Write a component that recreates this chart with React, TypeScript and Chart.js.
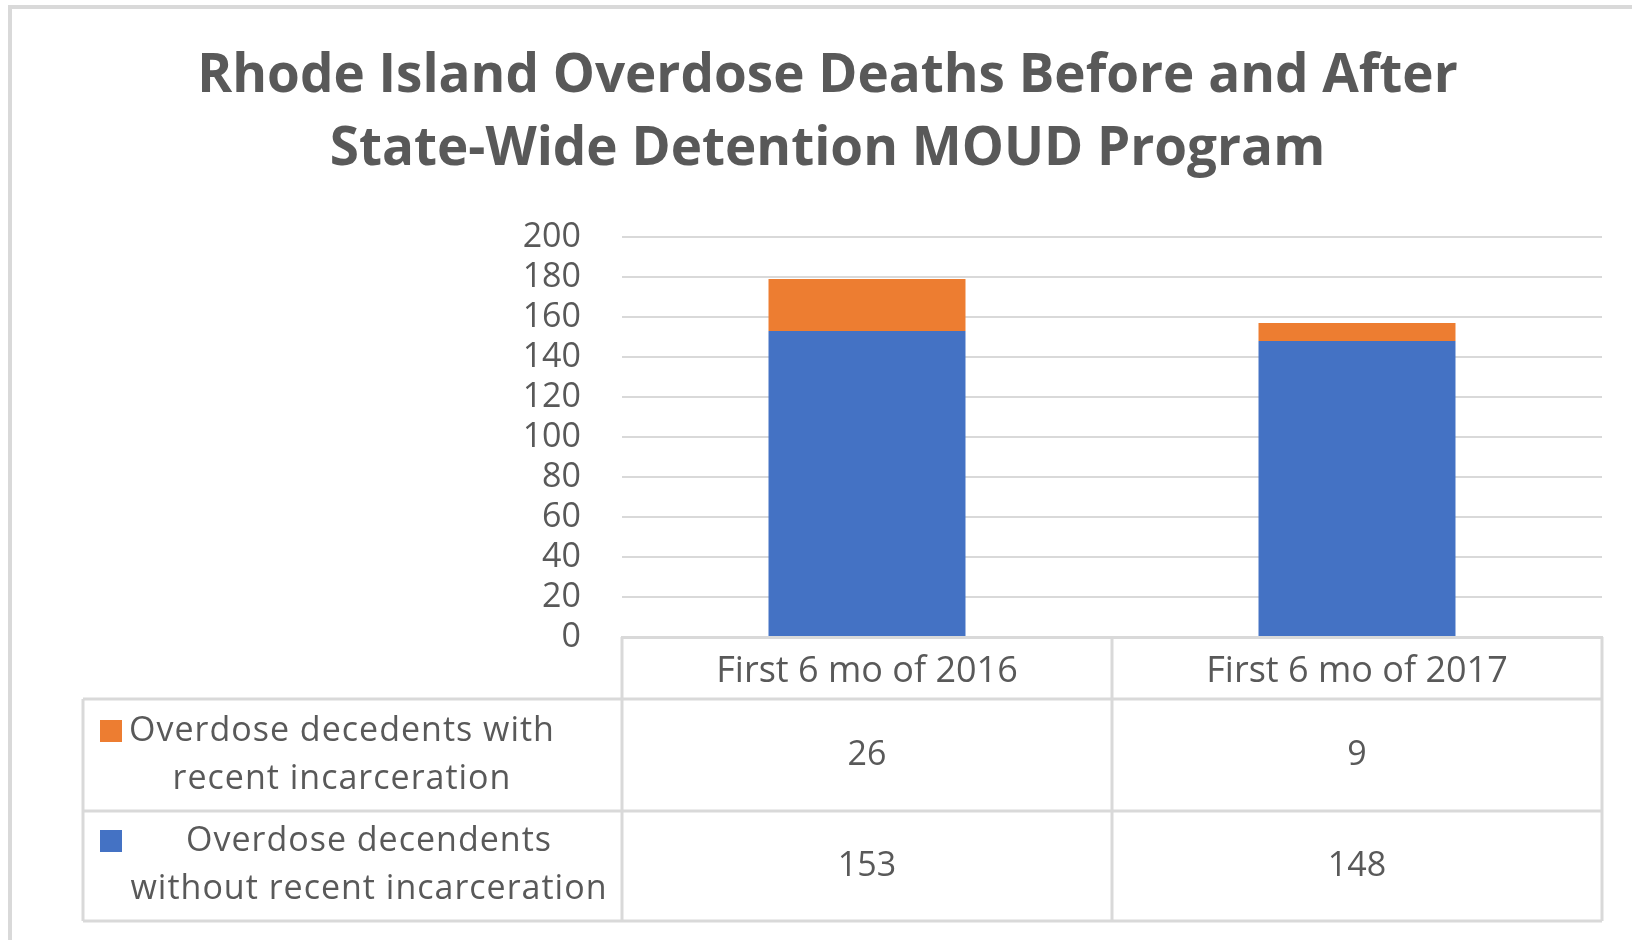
import React, { useEffect, useRef } from 'react';
import { Chart, registerables } from 'chart.js';

Chart.register(...registerables);

// ---- Data ----
const titleLines = ['Rhode Island Overdose Deaths Before and After', 'State-Wide Detention MOUD Program'];
const categories = ['First 6 mo of 2016', 'First 6 mo of 2017'];
const withRecentIncarceration = [26, 9];
const withoutRecentIncarceration = [153, 148];
const withLabelLines = ['Overdose decedents with', 'recent incarceration'];
const withoutLabelLines = ['Overdose decendents', 'without recent incarceration'];
const yMin = 0;
const yMax = 200;
const yStep = 20;

// ---- Styles ----
const BLUE = '#4472C4';
const ORANGE = '#ED7D31';
const GRID = '#D9D9D9';
const TEXT = '#595959';
const FONT = "'Open Sans', sans-serif";
const TABLE_FONT_SIZE = 34;

const dataTablePlugin = {
  id: 'dataTable',
  afterDraw(chart: any) {
    const ctx = chart.ctx as CanvasRenderingContext2D;
    const xs = chart.scales.x;
    const ys = chart.scales.y;
    const left = xs.left;
    const right = xs.right;
    const c0 = xs.getPixelForValue(0);
    const c1 = xs.getPixelForValue(1);
    const mid = (c0 + c1) / 2;
    const top = ys.bottom;
    const headerBottom = top + 62;
    const row1Bottom = headerBottom + 112;
    const row2Bottom = row1Bottom + 110;
    const tableLeft = 83;

    ctx.save();
    // outer chart frame
    ctx.strokeStyle = GRID;
    ctx.lineWidth = 4;
    ctx.beginPath();
    ctx.moveTo(10, chart.height);
    ctx.lineTo(10, 7);
    ctx.lineTo(chart.width, 7);
    ctx.stroke();

    // table grid
    ctx.lineWidth = 3;
    ctx.beginPath();
    ctx.moveTo(tableLeft, headerBottom); ctx.lineTo(right, headerBottom);
    ctx.moveTo(tableLeft, row1Bottom); ctx.lineTo(right, row1Bottom);
    ctx.moveTo(tableLeft, row2Bottom); ctx.lineTo(right, row2Bottom);
    ctx.moveTo(tableLeft, headerBottom); ctx.lineTo(tableLeft, row2Bottom);
    ctx.moveTo(left, top); ctx.lineTo(left, row2Bottom);
    ctx.moveTo(mid, top); ctx.lineTo(mid, row2Bottom);
    ctx.moveTo(right, top); ctx.lineTo(right, row2Bottom);
    ctx.stroke();

    // values
    ctx.fillStyle = TEXT;
    ctx.font = `${TABLE_FONT_SIZE}px ${FONT}`;
    ctx.textAlign = 'center';
    ctx.textBaseline = 'middle';
    const r1 = (headerBottom + row1Bottom) / 2;
    const r2 = (row1Bottom + row2Bottom) / 2;
    withRecentIncarceration.forEach((v, i) => {
      ctx.fillText(String(v), xs.getPixelForValue(i), r1);
    });
    withoutRecentIncarceration.forEach((v, i) => {
      ctx.fillText(String(v), xs.getPixelForValue(i), r2);
    });

    // row labels
    (ctx as any).letterSpacing = '1px';
    const lineGap = 48;
    withLabelLines.forEach((t, i) => {
      ctx.fillText(t, 342, r1 - 24 + i * lineGap);
    });
    withoutLabelLines.forEach((t, i) => {
      ctx.fillText(t, 369, r2 - 25 + i * lineGap);
    });
    (ctx as any).letterSpacing = '0px';

    // legend keys
    ctx.fillStyle = ORANGE;
    ctx.fillRect(100, r1 - 24 - 11, 22, 22);
    ctx.fillStyle = BLUE;
    ctx.fillRect(100, r2 - 25 - 11, 22, 22);
    ctx.restore();
  },
};

export default function App() {
  const canvasRef = useRef<HTMLCanvasElement | null>(null);

  useEffect(() => {
    if (!canvasRef.current) return;
    const padLeft = 53;
    const padRight = 30;
    const chart = new Chart(canvasRef.current, {
      type: 'bar',
      data: {
        labels: categories,
        datasets: [
          {
            label: withoutLabelLines.join(' '),
            data: withoutRecentIncarceration,
            backgroundColor: BLUE,
            borderWidth: 0,
          },
          {
            label: withLabelLines.join(' '),
            data: withRecentIncarceration,
            backgroundColor: ORANGE,
            borderWidth: 0,
          },
        ],
      },
      options: {
        responsive: false,
        animation: false,
        devicePixelRatio: 1,
        barPercentage: 0.402,
        categoryPercentage: 1,
        layout: { padding: { left: padLeft, right: padRight, top: 0, bottom: 0 } },
        plugins: {
          legend: { display: false },
          tooltip: { enabled: false },
          title: {
            display: true,
            text: titleLines,
            color: TEXT,
            font: { family: FONT, size: 53, weight: 'bold', lineHeight: 73 / 53 },
            padding: { top: 40, bottom: 51 },
          },
        },
        scales: {
          x: {
            stacked: true,
            grid: { display: false, drawTicks: false },
            border: { display: true, color: GRID, width: 3 },
            ticks: {
              color: TEXT,
              font: { family: FONT, size: 36 },
              padding: 13,
              maxRotation: 0,
              autoSkip: false,
            },
            afterFit: (scale: any) => {
              scale.height = 940 - 637;
            },
          },
          y: {
            stacked: true,
            min: yMin,
            max: yMax,
            grid: { color: GRID, lineWidth: 2, drawTicks: false },
            border: { display: false },
            ticks: {
              stepSize: yStep,
              autoSkip: false,
              color: TEXT,
              font: { family: FONT, size: TABLE_FONT_SIZE },
              padding: 41,
            },
            afterFit: (scale: any) => {
              scale.width = 622 - padLeft;
            },
          },
        },
      },
      plugins: [dataTablePlugin],
    });
    return () => chart.destroy();
  }, []);

  return (
    <div style={{ position: 'absolute', left: 0, top: 0, width: 1632, height: 940, background: '#fff' }}>
      <canvas ref={canvasRef} width={1632} height={940} />
    </div>
  );
}
